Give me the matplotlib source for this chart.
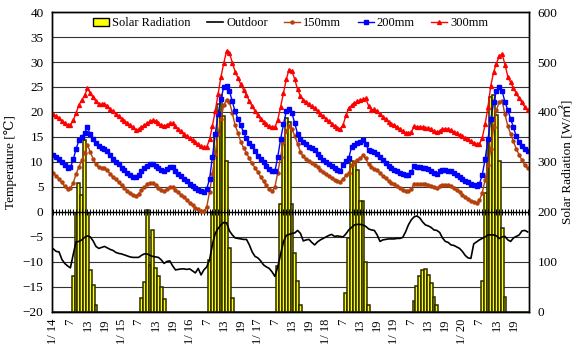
import numpy as np
import matplotlib
matplotlib.use("Agg")
import matplotlib.pyplot as plt
from matplotlib.patches import Patch
from matplotlib.lines import Line2D

plt.rcParams['font.family'] = ['Liberation Serif', 'DejaVu Serif', 'Noto Sans CJK JP']

# hourly data, 1/14 .. 1/20 (24 values per row)
outdoor = [
    -7.4, -7.9, -8.0, -9.5, -10.3, -10.8, -11.2, -8.5, -6.0, -5.9, -5.6, -5.1, -4.8, -5.0, -5.8, -6.9, -7.3, -7.1, -6.9, -7.2, -7.5, -7.7, -8.1, -8.3,
    -8.4, -8.6, -8.8, -9.0, -9.1, -9.1, -9.1, -8.7, -8.4, -8.4, -8.7, -8.9, -9.0, -9.1, -9.6, -10.3, -9.9, -9.8, -10.8, -11.6, -11.5, -11.4, -11.4, -11.5,
    -11.4, -11.8, -12.2, -11.3, -12.6, -11.6, -11.0, -9.6, -6.5, -4.3, -3.3, -2.6, -2.1, -2.2, -3.8, -4.6, -5.2, -5.3, -5.4, -5.5, -5.5, -6.6, -8.0, -8.9,
    -9.2, -9.8, -10.6, -11.0, -11.3, -12.0, -12.9, -11.0, -8.5, -6.0, -4.7, -4.5, -4.3, -4.2, -3.7, -4.3, -5.8, -5.6, -5.5, -6.1, -6.6, -6.0, -5.6, -5.3,
    -5.0, -4.7, -4.5, -4.9, -4.8, -4.9, -5.0, -4.4, -3.6, -3.1, -2.6, -2.5, -2.5, -2.6, -2.9, -3.4, -3.6, -3.7, -4.6, -5.9, -5.6, -5.5, -5.4, -5.4,
    -5.4, -5.3, -5.3, -5.1, -4.0, -2.6, -1.6, -1.0, -0.8, -1.2, -2.0, -2.6, -2.8, -3.1, -3.6, -3.7, -4.1, -5.2, -5.9, -6.1, -6.6, -6.7, -7.0, -7.3,
    -7.9, -8.7, -9.2, -9.3, -6.4, -6.0, -5.6, -5.3, -5.0, -4.6, -4.6, -4.6, -4.8, -5.3, -5.0, -4.9, -5.6, -5.9, -5.2, -4.9, -4.6, -3.8, -3.7, -4.0,
]
t150 = [
    7.7, 7.2, 6.6, 5.9, 5.1, 4.5, 4.7, 5.8, 7.6, 9.0, 10.3, 11.8, 13.4, 12.0, 10.6, 9.6, 8.9, 8.7, 8.7, 8.3, 7.6, 7.0, 6.5, 5.9,
    5.3, 4.8, 4.2, 3.7, 3.3, 3.1, 3.6, 4.3, 4.9, 5.5, 5.8, 5.8, 5.3, 4.8, 4.4, 4.1, 4.5, 5.0, 5.0, 4.4, 3.9, 3.4, 3.0, 2.4,
    1.8, 1.3, 0.8, 0.5, 0.2, 0.1, 1.0, 4.0, 7.6, 11.5, 15.6, 18.6, 21.4, 22.4, 22.0, 19.8, 17.3, 15.8, 14.0, 12.8, 11.8, 10.7, 9.7, 8.8,
    8.0, 7.0, 6.1, 5.3, 4.6, 4.1, 5.0, 7.8, 11.0, 14.0, 16.2, 17.2, 16.6, 15.2, 13.6, 12.0, 11.1, 10.5, 10.1, 9.7, 9.4, 8.9, 8.4, 7.9,
    7.5, 7.1, 6.7, 6.4, 6.1, 6.0, 6.6, 7.3, 7.8, 9.3, 9.9, 10.3, 10.7, 11.3, 10.7, 9.5, 9.0, 8.6, 8.3, 7.8, 7.2, 6.7, 6.2, 5.8,
    5.5, 5.1, 4.8, 4.4, 4.1, 4.1, 4.6, 5.6, 5.6, 5.5, 5.5, 5.5, 5.4, 5.2, 4.9, 4.7, 5.1, 5.4, 5.4, 5.3, 5.1, 4.7, 4.3, 3.9,
    3.4, 3.0, 2.6, 2.2, 1.9, 1.7, 2.3, 3.8, 6.4, 9.3, 12.6, 17.0, 20.4, 22.0, 22.2, 19.5, 17.2, 15.6, 14.1, 12.6, 11.4, 10.3, 9.3, 8.7,
]
t200 = [
    11.3, 10.9, 10.5, 10.0, 9.4, 8.8, 8.9, 10.5, 12.6, 14.3, 15.0, 15.8, 16.9, 15.5, 14.5, 13.7, 13.2, 12.8, 12.6, 12.2, 11.3, 10.5, 10.0, 9.5,
    8.8, 8.3, 7.8, 7.4, 7.0, 6.9, 7.3, 8.1, 8.7, 9.2, 9.5, 9.6, 9.2, 8.7, 8.3, 8.1, 8.5, 8.9, 8.9, 8.2, 7.6, 7.1, 6.6, 6.1,
    5.5, 5.1, 4.7, 4.4, 4.1, 4.0, 4.6, 6.6, 11.0, 15.6, 19.6, 22.6, 25.0, 25.1, 24.2, 22.1, 20.1, 18.6, 17.3, 15.9, 14.8, 13.8, 13.1, 12.2,
    11.2, 10.6, 9.9, 9.1, 8.6, 8.2, 8.1, 11.0, 14.5, 17.5, 20.1, 20.6, 19.8, 17.7, 15.6, 14.6, 14.0, 13.6, 13.0, 12.7, 12.3, 11.6, 11.0, 10.4,
    10.0, 9.6, 9.1, 8.7, 8.4, 8.2, 9.4, 10.2, 10.8, 13.0, 13.4, 13.7, 14.0, 14.4, 13.6, 12.4, 12.2, 11.9, 11.5, 10.9, 10.4, 9.8, 9.2, 8.8,
    8.4, 8.1, 7.8, 7.5, 7.4, 7.4, 8.0, 9.2, 9.0, 8.9, 8.8, 8.7, 8.5, 8.2, 7.8, 7.6, 8.1, 8.4, 8.4, 8.2, 8.1, 7.8, 7.4, 7.0,
    6.6, 6.2, 5.9, 5.6, 5.3, 5.2, 5.6, 7.4, 10.5, 14.5, 18.5, 21.9, 24.2, 25.0, 24.2, 22.0, 20.4, 18.6, 16.9, 15.1, 14.0, 13.2, 12.6, 12.2,
]
t300 = [
    19.5, 19.1, 18.7, 18.2, 17.8, 17.3, 17.4, 18.3, 19.8, 21.4, 22.4, 23.3, 24.7, 23.8, 22.9, 22.1, 21.6, 21.5, 21.6, 21.2, 20.6, 20.1, 19.6, 19.1,
    18.6, 18.2, 17.8, 17.4, 16.9, 16.4, 16.5, 16.9, 17.3, 17.7, 18.1, 18.3, 18.1, 17.7, 17.4, 17.2, 17.4, 17.7, 17.7, 17.1, 16.6, 16.1, 15.6, 15.1,
    14.7, 14.3, 13.9, 13.5, 13.1, 12.9, 13.0, 14.5, 17.2, 20.2, 23.6, 27.0, 29.8, 32.2, 31.8, 29.9, 28.1, 26.8, 25.5, 24.4, 23.4, 22.2, 21.1, 20.2,
    19.3, 18.5, 18.0, 17.5, 17.1, 16.9, 17.0, 18.4, 21.0, 23.8, 26.5, 28.5, 28.2, 26.5, 24.5, 23.2, 22.4, 22.0, 21.5, 21.1, 20.7, 20.1, 19.6, 19.1,
    18.6, 18.1, 17.6, 17.2, 16.8, 16.6, 17.4, 19.3, 20.8, 21.3, 21.7, 22.1, 22.3, 22.5, 22.7, 21.2, 20.4, 20.5, 20.2, 19.6, 19.0, 18.5, 18.0, 17.5,
    17.3, 17.0, 16.6, 16.2, 15.8, 15.7, 16.0, 17.1, 17.0, 17.0, 16.9, 16.8, 16.7, 16.5, 16.2, 15.9, 16.2, 16.5, 16.6, 16.5, 16.3, 16.0, 15.7, 15.4,
    15.1, 14.8, 14.5, 14.1, 13.8, 13.5, 13.6, 14.8, 17.5, 21.0, 25.2, 28.0, 29.7, 31.2, 31.6, 29.5, 27.1, 25.9, 24.8, 23.7, 22.7, 21.9, 21.0, 20.3,
]
solar = [
    0, 0, 0, 0, 0, 0, 0, 71, 197, 257, 234, 344, 197, 84, 54, 14, 0, 0, 0, 0, 0, 0, 0, 0,
    0, 0, 0, 0, 0, 0, 0, 27, 60, 204, 94, 164, 87, 71, 50, 25, 0, 0, 0, 0, 0, 0, 0, 0,
    0, 0, 0, 0, 0, 0, 0, 104, 200, 352, 415, 434, 392, 301, 127, 27, 0, 0, 0, 0, 0, 0, 0, 0,
    0, 0, 0, 0, 0, 0, 0, 92, 216, 345, 388, 380, 215, 117, 61, 14, 0, 0, 0, 0, 0, 0, 0, 0,
    0, 0, 0, 0, 0, 0, 0, 37, 147, 301, 300, 283, 221, 221, 99, 14, 0, 0, 0, 0, 0, 0, 0, 0,
    0, 0, 0, 0, 0, 0, 0, 21, 51, 71, 84, 85, 74, 57, 30, 14, 0, 0, 0, 0, 0, 0, 0, 0,
    0, 0, 0, 0, 0, 0, 0, 61, 237, 347, 430, 434, 394, 301, 167, 30, 0, 0, 0, 0, 0, 0, 0, 0,
]
tick_labels = ["1/ 14", "7", "13", "19", "1/ 15", "7", "13", "19",
               "1/ 16", "7", "13", "19", "1/ 17", "7", "13", "19",
               "1/ 18", "7", "13", "19", "1/ 19", "7", "13", "19",
               "1/ 20", "7", "13", "19"]

hours = np.arange(len(t300))
tick_pos = np.arange(0, len(hours), 6)

fig = plt.figure(figsize=(5.77, 3.54), dpi=100)
ax2 = fig.add_axes([0.090, 0.119, 0.827, 0.847])
ax = ax2.twinx()
# ax (temperature) on the left and on top, ax2 (solar) behind on the right
ax.yaxis.tick_left()
ax.yaxis.set_label_position("left")
ax2.yaxis.tick_right()
ax2.yaxis.set_label_position("right")
ax.set_zorder(ax2.get_zorder() + 1)
ax.patch.set_visible(False)

# solar radiation bars (right axis)
ax2.bar(hours, solar, width=1.0, color="#FFFF00", edgecolor="#2a2a00", linewidth=1.1)
ax2.set_ylim(0, 600)
ax2.set_yticks(np.arange(0, 601, 100))
ax2.set_yticks(np.arange(0, 601, 50), minor=True)
ax2.set_axisbelow(True)
ax2.grid(which="both", axis="y", color="#333333", linewidth=0.8)
ax2.tick_params(axis="y", which="both", length=0, labelsize=9.5, pad=6)
ax2.set_ylabel("Solar Radiation [W/㎡]", fontsize=9.5, labelpad=3)

# temperature lines (left axis)
ax.axhline(0, color="black", linewidth=1.0)
ax.plot(hours, np.zeros(len(hours)), linestyle="none", marker="|", markersize=4,
        markeredgewidth=0.7, color="black")
ax.plot(hours, outdoor, color="black", linewidth=1.2)
ax.plot(hours, t150, color="#B5400C", linewidth=1.0, marker="o", markersize=2.2)
ax.plot(hours, t200, color="#0000FF", linewidth=1.0, marker="s", markersize=2.6)
ax.plot(hours, t300, color="#FF0000", linewidth=1.0, marker="^", markersize=2.8)
ax.set_ylim(-20, 40)
ax.set_yticks(np.arange(-20, 41, 5))
ax.tick_params(axis="y", length=0, labelsize=9.5, pad=6)
ax.set_ylabel("Temperature [℃]", fontsize=9.5, labelpad=4)

ax2.set_xlim(-0.5, len(hours) - 0.5)
ax2.set_xticks(tick_pos)
ax2.set_xticklabels(tick_labels, rotation=90, fontsize=9)
ax2.tick_params(axis="x", length=0, pad=5)

for a in (ax, ax2):
    for s in a.spines.values():
        s.set_color("black")
        s.set_linewidth(1.0)

handles = [
    Patch(facecolor="#FFFF00", edgecolor="black", label="Solar Radiation"),
    Line2D([0], [0], color="black", linewidth=1.2, label="Outdoor"),
    Line2D([0], [0], color="#B5400C", linewidth=1.0, marker="o", markersize=2.2, label="150mm"),
    Line2D([0], [0], color="#0000FF", linewidth=1.0, marker="s", markersize=2.6, label="200mm"),
    Line2D([0], [0], color="#FF0000", linewidth=1.0, marker="^", markersize=2.8, label="300mm"),
]
ax.legend(handles=handles, loc="upper center", bbox_to_anchor=(0.5, 1.02), ncol=5,
          frameon=False, fontsize=9, handlelength=1.3, handletextpad=0.25, columnspacing=1.3)

plt.savefig("out.png", dpi=100)
